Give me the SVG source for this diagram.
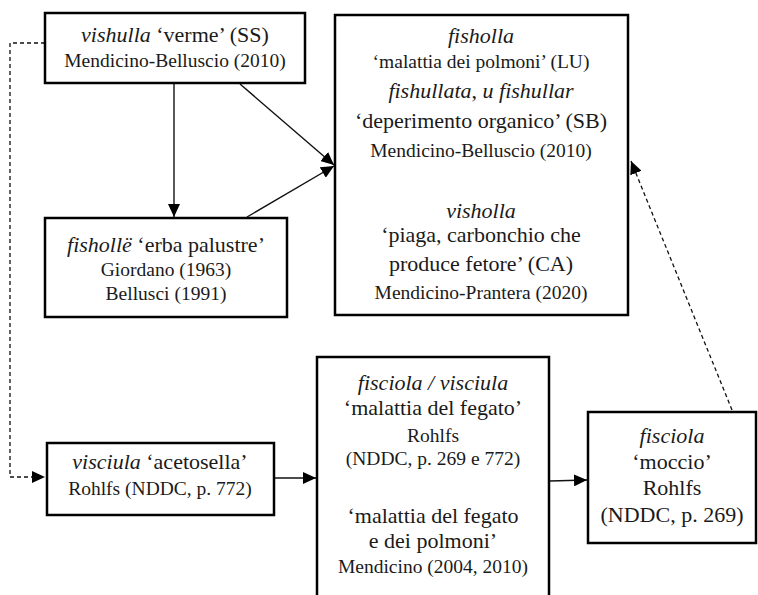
<svg xmlns="http://www.w3.org/2000/svg" width="758" height="595" viewBox="0 0 758 595">
<style>
.box{fill:#fff;stroke:#000;stroke-width:2.5}
.t text{fill:#1a1a1a;text-anchor:middle}
.m{font-size:22px}
.c{font-size:19.5px}
.i{font-style:italic}
.ln{fill:none;stroke:#111;stroke-width:1.4}
.d{fill:none;stroke:#111;stroke-width:1.3;stroke-dasharray:4 3}
</style>
<defs>
<marker id="ah" markerUnits="userSpaceOnUse" markerWidth="14" markerHeight="12" refX="13" refY="6" orient="auto">
<path d="M0,0 L13,6 L0,12 Z" fill="#000"/>
</marker>
</defs>
<rect width="758" height="595" fill="#fff"/>
<g id="connectors">
<path class="d" d="M45,43 H10 V477 H45" marker-end="url(#ah)"/>
<line class="ln" x1="174" y1="84" x2="174" y2="217" marker-end="url(#ah)"/>
<line class="ln" x1="240" y1="84" x2="334" y2="165" marker-end="url(#ah)"/>
<line class="ln" x1="247" y1="217" x2="334" y2="166" marker-end="url(#ah)"/>
<line class="ln" x1="275" y1="478" x2="316" y2="478" marker-end="url(#ah)"/>
<line class="ln" x1="550" y1="481" x2="587" y2="480" marker-end="url(#ah)"/>
<line class="d" x1="732" y1="410" x2="631" y2="161" marker-end="url(#ah)"/>
</g>
<g class="t" font-family="Liberation Serif, DejaVu Serif, Times New Roman, serif">
<g id="n-vishulla">
<rect class="box" x="45" y="13" width="260" height="70"/>
<text class="m" x="175" y="42"><tspan class="i">vishulla</tspan> ‘verme’ (SS)</text>
<text class="c" x="175" y="67">Mendicino-Belluscio (2010)</text>
</g>
<g id="n-fisholle">
<rect class="box" x="45" y="218" width="242" height="99"/>
<text class="m" x="166" y="252"><tspan class="i">fishollë</tspan> ‘erba palustre’</text>
<text class="c" x="166" y="276">Giordano (1963)</text>
<text class="c" x="166" y="300">Bellusci (1991)</text>
</g>
<g id="n-fisholla">
<rect class="box" x="335" y="15" width="293" height="300"/>
<text class="m i" x="481" y="43">fisholla</text>
<text class="c" x="481" y="68">‘malattia dei polmoni’ (LU)</text>
<text class="m" x="481" y="98"><tspan class="i">fishullata</tspan>, <tspan class="i">u fishullar</tspan></text>
<text class="m" x="481" y="128">‘deperimento organico’ (SB)</text>
<text class="c" x="481" y="157">Mendicino-Belluscio (2010)</text>
<text class="m i" x="481" y="218">visholla</text>
<text class="m" x="481" y="242">‘piaga, carbonchio che</text>
<text class="m" x="481" y="271">produce fetore’ (CA)</text>
<text class="c" x="481" y="299">Mendicino-Prantera (2020)</text>
</g>
<g id="n-visciula">
<rect class="box" x="47" y="443" width="227" height="72"/>
<text class="m" x="160" y="469"><tspan class="i">visciula</tspan> ‘acetosella’</text>
<text class="c" x="160" y="495">Rohlfs (NDDC, p. 772)</text>
</g>
<g id="n-fisciola-visciula">
<rect class="box" x="317" y="357" width="232" height="260"/>
<text class="m i" x="433" y="390">fisciola / visciula</text>
<text class="m" x="433" y="415">‘malattia del fegato’</text>
<text class="c" x="433" y="442">Rohlfs</text>
<text class="c" x="433" y="465">(NDDC, p. 269 e 772)</text>
<text class="m" x="433" y="523">‘malattia del fegato</text>
<text class="m" x="433" y="548">e dei polmoni’</text>
<text class="c" x="433" y="573">Mendicino (2004, 2010)</text>
</g>
<g id="n-fisciola-moccio">
<rect class="box" x="588" y="412" width="168" height="131"/>
<text class="m i" x="672" y="443">fisciola</text>
<text class="m" x="672" y="469">‘moccio’</text>
<text class="m" x="672" y="495" font-size="21">Rohlfs</text>
<text class="m" x="672" y="522">(NDDC, p. 269)</text>
</g>
</g>
</svg>
